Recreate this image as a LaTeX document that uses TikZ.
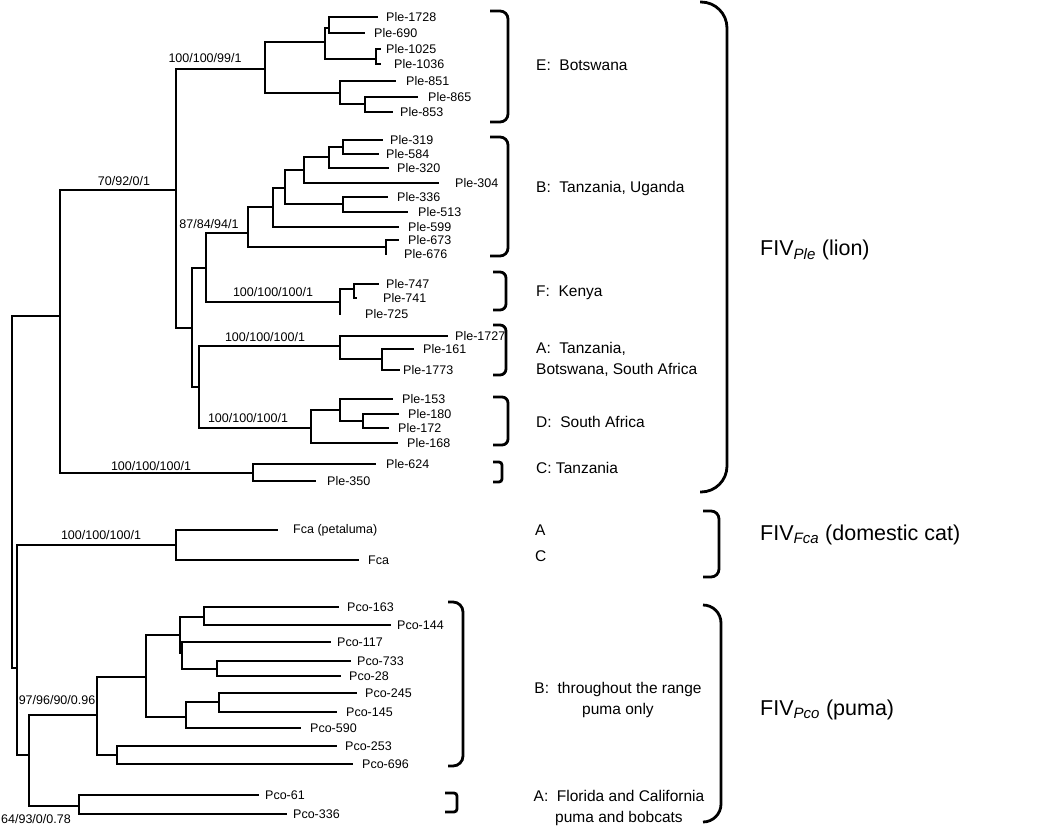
\documentclass[tikz,border=0pt]{standalone}
\usepackage{fontspec}
\setmainfont{Liberation Sans}
\newcommand{\TipFont}{\fontsize{12.5}{14}\selectfont}
\newcommand{\CladeFont}{\fontsize{15.5}{21}\selectfont}
\newcommand{\HostFont}{\fontsize{21.5}{26}\selectfont}
\newcommand{\Tip}[5]{%
  \coordinate (#1) at (#2,#3);
  \node[tiplabel] (#1-l) at (#4,#3) {#5};
}
\newcommand{\Bracket}[5]{%
  \draw[cladebracket,rounded corners=#5] (#1,#3) -- (#2,#3) -- (#2,#4) -- (#1,#4);
}

\begin{document}
\begin{tikzpicture}[x=1pt,y=-1pt,text=black,
  branch/.style={draw=black,line width=1.7pt,line cap=rect},
  tiplabel/.style={anchor=west,inner sep=0pt,font=\TipFont},
  support/.style={inner sep=0pt,font=\TipFont},
  cladebracket/.style={draw=black,line width=2.8pt,line cap=butt},
  cladetext/.style={anchor=west,inner sep=0pt,font=\CladeFont},
  hosttext/.style={anchor=west,inner sep=0pt,font=\HostFont}]
  \useasboundingbox (0,0) rectangle (1050,828);
  % internal nodes
  \coordinate (root) at (12,492);
  \coordinate (lion) at (60,316);
  \coordinate (P1) at (176,190);
  \coordinate (Ecr) at (265,69);
  \coordinate (E1) at (325,42);
  \coordinate (E11) at (329,28);
  \coordinate (E12) at (376,59);
  \coordinate (E2) at (340,93);
  \coordinate (E21) at (365,104);
  \coordinate (Q) at (192,328);
  \coordinate (R) at (206,268);
  \coordinate (S) at (199,387);
  \coordinate (Bcr) at (248,233);
  \coordinate (B1) at (273,207);
  \coordinate (B2) at (285,188);
  \coordinate (B3) at (304,170);
  \coordinate (B4) at (329,157);
  \coordinate (B5) at (343,147);
  \coordinate (B6) at (343,204);
  \coordinate (B7) at (386,247);
  \coordinate (Fn) at (340,302);
  \coordinate (F1) at (354,289);
  \coordinate (An) at (340,346);
  \coordinate (A1) at (382,359);
  \coordinate (Dn) at (311,428);
  \coordinate (D1) at (340,410);
  \coordinate (D2) at (363,421);
  \coordinate (Cn) at (253,473);
  \coordinate (nf) at (17,668);
  \coordinate (Fcan) at (176,545);
  \coordinate (Pn) at (29,755);
  \coordinate (PA) at (79,806);
  \coordinate (PB) at (97,715);
  \coordinate (PB1) at (146,677);
  \coordinate (PB2) at (117,755);
  \coordinate (PX) at (180,635);
  \coordinate (PX1) at (204,617);
  \coordinate (PX2) at (182,653);
  \coordinate (PX3) at (217,669);
  \coordinate (PY) at (186,717);
  \coordinate (PY1) at (219,702);
  % tips
  \Tip{t1728}{377}{17}{386}{Ple-1728}
  \Tip{t690}{364}{33}{374}{Ple-690}
  \Tip{t1025}{380}{49}{386}{Ple-1025}
  \Tip{t1036}{380}{64}{394}{Ple-1036}
  \Tip{t851}{395}{81}{406}{Ple-851}
  \Tip{t865}{417}{97}{428}{Ple-865}
  \Tip{t853}{392}{112}{400}{Ple-853}
  \Tip{t319}{382}{140}{390}{Ple-319}
  \Tip{t584}{378}{154}{386}{Ple-584}
  \Tip{t320}{388}{168}{397}{Ple-320}
  \Tip{t304}{438}{183}{455}{Ple-304}
  \Tip{t336}{387}{197}{397}{Ple-336}
  \Tip{t513}{407}{212}{418}{Ple-513}
  \Tip{t599}{398}{227}{408}{Ple-599}
  \Tip{t673}{398}{240}{408}{Ple-673}
  \Tip{t676}{386}{254}{404}{Ple-676}
  \Tip{t747}{378}{284}{386}{Ple-747}
  \Tip{t741}{356}{298}{383}{Ple-741}
  \Tip{t725}{340}{314}{365}{Ple-725}
  \Tip{t1727}{447}{336}{455}{Ple-1727}
  \Tip{t161}{413}{349}{423}{Ple-161}
  \Tip{t1773}{399}{370}{403}{Ple-1773}
  \Tip{t153}{392}{399}{402}{Ple-153}
  \Tip{t180}{398}{414}{408}{Ple-180}
  \Tip{t172}{388}{428}{398}{Ple-172}
  \Tip{t168}{397}{443}{407}{Ple-168}
  \Tip{t624}{375}{464}{386}{Ple-624}
  \Tip{t350}{315}{481}{327}{Ple-350}
  \Tip{tfcap}{277}{530}{293}{Fca (petaluma)}
  \Tip{tfca}{358}{560}{368}{Fca}
  \Tip{p163}{338}{607}{347}{Pco-163}
  \Tip{p144}{390}{625}{397}{Pco-144}
  \Tip{p117}{330}{642}{337}{Pco-117}
  \Tip{p733}{350}{661}{357}{Pco-733}
  \Tip{p28}{340}{676}{349}{Pco-28}
  \Tip{p245}{356}{693}{365}{Pco-245}
  \Tip{p145}{336}{712}{346}{Pco-145}
  \Tip{p590}{300}{728}{310}{Pco-590}
  \Tip{p253}{336}{746}{345}{Pco-253}
  \Tip{p696}{352}{764}{362}{Pco-696}
  \Tip{p61}{258}{795}{265}{Pco-61}
  \Tip{p336}{286}{814}{293}{Pco-336}
  % branches
  \draw[branch] (root) |- (lion) (root) |- (nf);
  \draw[branch] (lion) |- (P1) (lion) |- (Cn);
  \draw[branch] (P1) |- (Ecr) (P1) |- (Q);
  \draw[branch] (Ecr) |- (E1) (Ecr) |- (E2);
  \draw[branch] (E1) |- (E11) (E1) |- (E12);
  \draw[branch] (E11) |- (t1728) (E11) |- (t690);
  \draw[branch] (E12) |- (t1025) (E12) |- (t1036);
  \draw[branch] (E2) |- (t851) (E2) |- (E21);
  \draw[branch] (E21) |- (t865) (E21) |- (t853);
  \draw[branch] (Q) |- (R) (Q) |- (S);
  \draw[branch] (R) |- (Bcr) (R) |- (Fn);
  \draw[branch] (Bcr) |- (B1) (Bcr) |- (B7);
  \draw[branch] (B1) |- (B2) (B1) |- (t599);
  \draw[branch] (B2) |- (B3) (B2) |- (B6);
  \draw[branch] (B3) |- (B4) (B3) |- (t304);
  \draw[branch] (B4) |- (B5) (B4) |- (t320);
  \draw[branch] (B5) |- (t319) (B5) |- (t584);
  \draw[branch] (B6) |- (t336) (B6) |- (t513);
  \draw[branch] (B7) |- (t673) (B7) |- (t676);
  \draw[branch] (Fn) |- (F1) (Fn) |- (t725);
  \draw[branch] (F1) |- (t747) (F1) |- (t741);
  \draw[branch] (S) |- (An) (S) |- (Dn);
  \draw[branch] (An) |- (t1727) (An) |- (A1);
  \draw[branch] (A1) |- (t161) (A1) |- (t1773);
  \draw[branch] (Dn) |- (D1) (Dn) |- (t168);
  \draw[branch] (D1) |- (t153) (D1) |- (D2);
  \draw[branch] (D2) |- (t180) (D2) |- (t172);
  \draw[branch] (Cn) |- (t624) (Cn) |- (t350);
  \draw[branch] (nf) |- (Fcan) (nf) |- (Pn);
  \draw[branch] (Fcan) |- (tfcap) (Fcan) |- (tfca);
  \draw[branch] (Pn) |- (PB) (Pn) |- (PA);
  \draw[branch] (PA) |- (p61) (PA) |- (p336);
  \draw[branch] (PB) |- (PB1) (PB) |- (PB2);
  \draw[branch] (PB2) |- (p253) (PB2) |- (p696);
  \draw[branch] (PB1) |- (PX) (PB1) |- (PY);
  \draw[branch] (PX) |- (PX1) (PX) |- (PX2);
  \draw[branch] (PX1) |- (p163) (PX1) |- (p144);
  \draw[branch] (PX2) |- (p117) (PX2) |- (PX3);
  \draw[branch] (PX3) |- (p733) (PX3) |- (p28);
  \draw[branch] (PY) |- (PY1) (PY) |- (p590);
  \draw[branch] (PY1) |- (p245) (PY1) |- (p145);
  % support values
  \node[support] (sLion) at (124,181) {70/92/0/1};
  \node[support] (sE) at (205,58) {100/100/99/1};
  \node[support] (sB) at (209,224) {87/84/94/1};
  \node[support] (sF) at (273,292) {100/100/100/1};
  \node[support] (sA) at (265,337) {100/100/100/1};
  \node[support] (sD) at (248,418) {100/100/100/1};
  \node[support] (sC) at (151,466) {100/100/100/1};
  \node[support] (sFca) at (101,535) {100/100/100/1};
  \node[support] (sPB) at (57,700) {97/96/90/0.96};
  \node[support,anchor=west] (sPA) at (1,819) {64/93/0/0.78};
  % subtype brackets
  \Bracket{490}{508}{11}{122}{8}
  \Bracket{490}{508}{137}{256}{8}
  \Bracket{493}{506}{272}{310}{6}
  \Bracket{493}{506}{325}{375}{6}
  \Bracket{493}{508}{397}{445}{6}
  \Bracket{493}{502}{462}{482}{3}
  \Bracket{448}{463}{602}{766}{10}
  \Bracket{445}{457}{793}{812}{3}
  % host braces
  \Bracket{700}{727}{2}{492}{26}
  \Bracket{703}{719}{511}{577}{8}
  \Bracket{703}{721}{605}{822}{18}
  % subtype labels
  \node[cladetext] (cE) at (536,65) {E:~ Botswana};
  \node[cladetext] (cB) at (536,188) {B:~ Tanzania, Uganda};
  \node[cladetext] (cF) at (536,293) {F:~ Kenya};
  \node[cladetext,align=left] (cA) at (536,359.5) {A:~ Tanzania,\\Botswana, South Africa};
  \node[cladetext] (cD) at (536,422) {D:~ South Africa};
  \node[cladetext] (cC) at (536,468) {C: Tanzania};
  \node[cladetext] (cFa) at (535,530) {A};
  \node[cladetext] (cFc) at (535,556) {C};
  \node[cladetext,anchor=center,align=center] (cPB) at (618,699.5) {B:~ throughout the range\\puma only};
  \node[cladetext,anchor=center,align=center] (cPA) at (619,807.5) {A:~ Florida and California\\puma and bobcats};
  % host labels
  \node[hosttext] (hLion) at (760,250) {FIV\textsubscript{\textit{Ple}} (lion)};
  \node[hosttext] (hFca) at (760,535) {FIV\textsubscript{\textit{Fca}} (domestic cat)};
  \node[hosttext] (hPco) at (760,710) {FIV\textsubscript{\textit{Pco}} (puma)};
\end{tikzpicture}
\end{document}
